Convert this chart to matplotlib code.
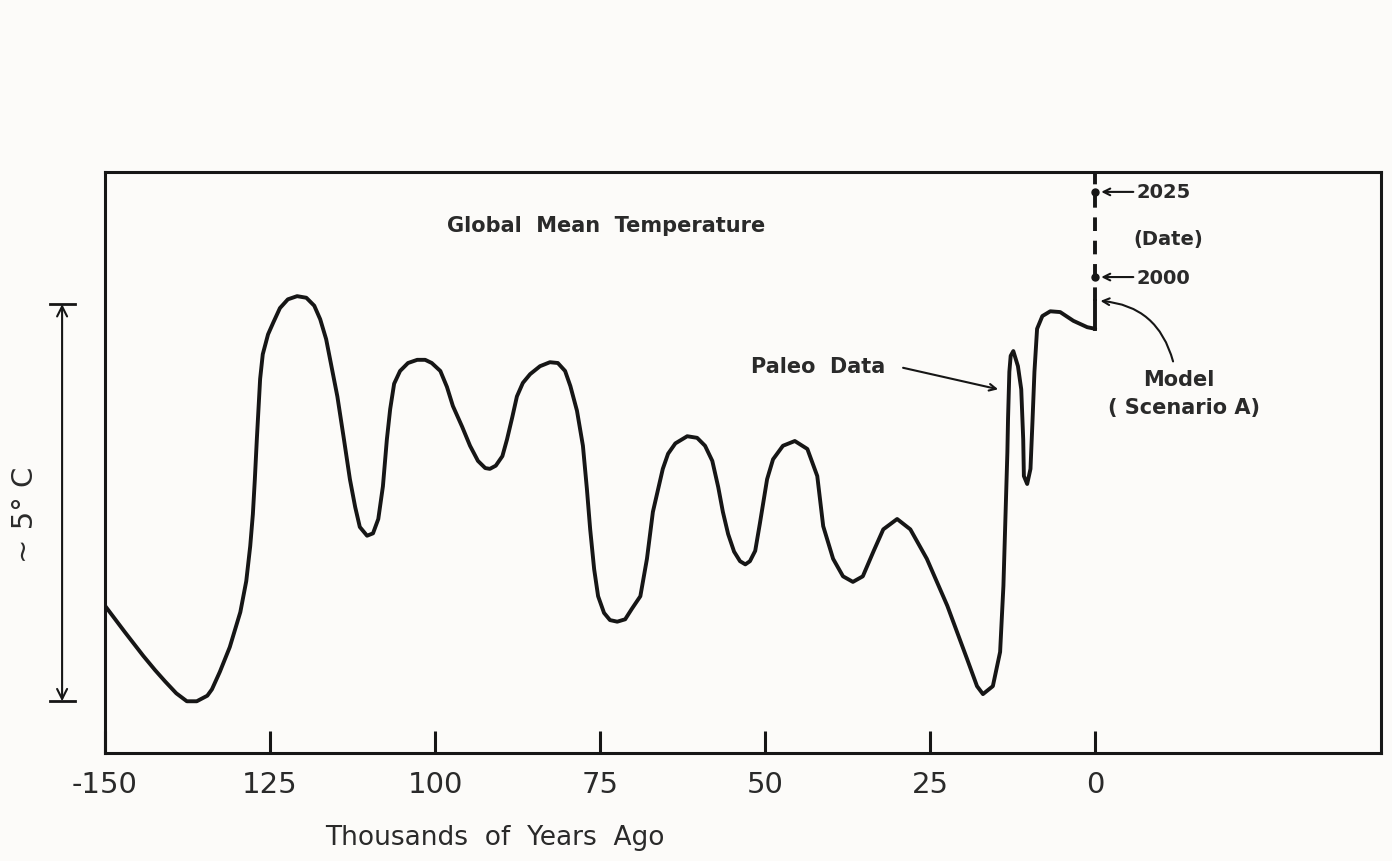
import numpy as np
import matplotlib.pyplot as plt

# paleo record: thousands of years before present (negative = past) and temperature (deg C, arbitrary zero)
age_kyr = [-150.0, -147.0, -144.2, -142.4, -140.9, -139.2, -137.6, -136.1, -134.5, -133.8,
           -132.6, -131.1, -129.5, -128.6, -128.0, -127.6, -127.3, -127.0, -126.5, -126.1,
           -125.3, -124.5, -123.5, -122.3, -120.9, -119.5, -118.3, -117.4, -116.5, -115.6,
           -114.8, -113.8, -112.9, -112.1, -111.4, -110.3, -109.4, -108.6, -107.9, -107.3,
           -106.8, -106.2, -105.3, -104.1, -102.7, -101.5, -100.5, -99.2, -98.2, -97.3,
           -95.9, -94.7, -93.5, -92.4, -91.7, -90.8, -89.8, -89.1, -88.3, -87.6,
           -86.7, -85.6, -84.1, -82.6, -81.4, -80.3, -79.5, -78.5, -77.6, -77.0,
           -76.5, -75.9, -75.3, -74.4, -73.5, -72.4, -71.2, -70.2, -68.9, -67.9,
           -67.0, -65.5, -64.7, -63.6, -61.8, -60.3, -59.1, -58.0, -57.1, -56.4,
           -55.6, -54.7, -53.8, -53.0, -52.3, -51.5, -50.8, -49.7, -48.8, -47.3,
           -45.5, -43.6, -42.1, -41.2, -39.7, -38.2, -36.7, -35.2, -33.6, -32.1,
           -30.0, -28.0, -25.5, -22.4, -19.4, -17.9, -17.0, -15.5, -14.4, -13.9,
           -13.6, -13.3, -13.2, -13.0, -12.8, -12.4, -11.7, -11.2, -10.9, -10.8,
           -10.3, -9.8, -9.5, -9.2, -8.8, -8.0, -6.8, -5.3, -3.3, -1.2,
           0.0]
temp = [1.85, 1.52, 1.22, 1.04, 0.90, 0.75, 0.65, 0.65, 0.72, 0.80,
        1.02, 1.33, 1.77, 2.16, 2.60, 3.00, 3.44, 3.94, 4.70, 5.01,
        5.26, 5.41, 5.59, 5.70, 5.74, 5.72, 5.62, 5.45, 5.20, 4.82,
        4.48, 3.94, 3.44, 3.09, 2.84, 2.73, 2.76, 2.94, 3.35, 3.94,
        4.32, 4.64, 4.80, 4.90, 4.94, 4.94, 4.90, 4.80, 4.60, 4.36,
        4.10, 3.86, 3.67, 3.58, 3.57, 3.61, 3.73, 3.94, 4.22, 4.48,
        4.65, 4.76, 4.86, 4.91, 4.90, 4.80, 4.61, 4.30, 3.86, 3.32,
        2.81, 2.31, 1.97, 1.76, 1.67, 1.65, 1.68, 1.81, 1.97, 2.44,
        3.03, 3.57, 3.76, 3.89, 3.98, 3.96, 3.86, 3.67, 3.34, 3.03,
        2.75, 2.53, 2.41, 2.37, 2.41, 2.54, 2.88, 3.44, 3.69, 3.86,
        3.92, 3.82, 3.48, 2.85, 2.44, 2.22, 2.15, 2.22, 2.53, 2.81,
        2.94, 2.81, 2.44, 1.85, 1.18, 0.84, 0.74, 0.84, 1.27, 2.10,
        2.94, 3.78, 4.20, 4.79, 4.99, 5.05, 4.86, 4.57, 3.94, 3.48,
        3.38, 3.57, 4.16, 4.79, 5.33, 5.49, 5.55, 5.54, 5.43, 5.35,
        5.33]

# model (scenario A): jump to the present, then the projected dates
model_start = 5.33
model_now = 5.68
date_labels = ['2000', '2025']
date_temp = [5.98, 7.05]

xticks = [-150, -125, -100, -75, -50, -25, 0]
xticklabels = ['-150', '125', '100', '75', '50', '25', '0']

ink = '#161616'
txt = '#2a2a2a'
paper = '#fcfbf9'

fig = plt.figure(figsize=(13.92, 8.62), dpi=100, facecolor=paper)
ax = fig.add_axes([105/1392, 1-754/862, (1381-105)/1392, (754-173)/862])
ax.set_facecolor(paper)
ax.set_xlim(-150, 43.3)
ax.set_ylim(0, 7.30)

ax.plot(age_kyr, temp, color=ink, lw=2.8, solid_joinstyle='round', solid_capstyle='round')

# model segment
ax.plot([0, 0], [model_start, model_now], color=ink, lw=2.8)
ax.plot([0, 0], [model_now, 7.30], color=ink, lw=2.8, dashes=(3.5, 2.5), clip_on=False)
ax.plot([0, 0], date_temp, 'o', color=ink, ms=5)

for lab, y in zip(date_labels, date_temp):
    ax.annotate('', xy=(0.5, y), xytext=(6.2, y),
                arrowprops=dict(arrowstyle='->', color=ink, lw=1.5, mutation_scale=12))
    ax.text(6.3, y, lab, ha='left', va='center', fontsize=14, weight='bold', color=txt)
ax.text(11.0, 6.46, '(Date)', ha='center', va='center', fontsize=14, weight='bold', color=txt)

ax.annotate('', xy=(0.8, 5.68), xytext=(11.8, 4.92),
            arrowprops=dict(arrowstyle='->', color=ink, lw=1.5, mutation_scale=12,
                            connectionstyle='arc3,rad=0.35', shrinkA=0, shrinkB=0))
ax.text(12.6, 4.70, 'Model', ha='center', va='center', fontsize=15, weight='bold', color=txt)
ax.text(13.5, 4.35, '( Scenario A)', ha='center', va='center', fontsize=15, weight='bold', color=txt)

ax.annotate('', xy=(-14.7, 4.57), xytext=(-29.1, 4.84),
            arrowprops=dict(arrowstyle='->', color=ink, lw=1.5, mutation_scale=12,
                            shrinkA=0, shrinkB=0))
ax.text(-42.0, 4.86, 'Paleo  Data', ha='center', va='center', fontsize=15, weight='bold', color=txt)

ax.text(-74.1, 6.63, 'Global  Mean  Temperature', ha='center', va='center', fontsize=15,
        weight='bold', color=txt)

# ~5 C scale bar left of the frame
ax.annotate('', xy=(-156.5, 5.64), xytext=(-156.5, 0.65), annotation_clip=False,
            arrowprops=dict(arrowstyle='<->', color=ink, lw=1.5, mutation_scale=18,
                            shrinkA=0, shrinkB=0))
for y in [5.64, 0.65]:
    ax.plot([-158.4, -154.6], [y, y], color=ink, lw=2, clip_on=False)
fig.text(25/1392, 1-515/862, '~ 5° C', rotation=90, ha='center', va='center', fontsize=21,
         color=txt)

ax.set_xticks(xticks)
ax.set_xticklabels(xticklabels)
ax.set_yticks([])
ax.tick_params(axis='x', direction='in', length=16, width=2.2, pad=12, labelsize=21,
               colors=ink, labelcolor=txt)
for s in ax.spines.values():
    s.set_linewidth(2.2)
    s.set_color(ink)

fig.text(325/1392, 1-838/862, 'Thousands  of  Years  Ago', ha='left', va='center', fontsize=19,
         color=txt)

fig.savefig('out.png', dpi=100, facecolor=paper)
